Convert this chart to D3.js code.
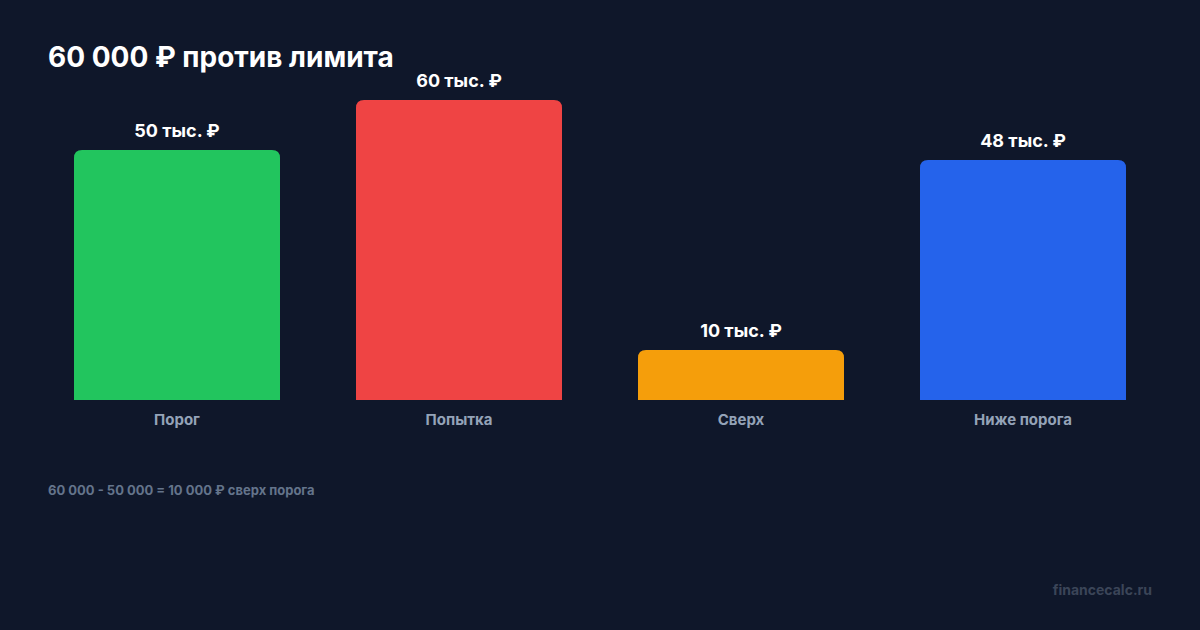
<!DOCTYPE html>
<html><head><meta charset="utf-8">
<script src="https://cdn.jsdelivr.net/npm/d3@7/dist/d3.min.js"></script>
<style>html,body{margin:0;padding:0;background:#0f172a;}svg{display:block;font-family:Inter,"Noto Sans",sans-serif;}</style>
</head><body>
<svg id="c" width="1200" height="630"></svg>
<script>
const categories = ["Порог", "Попытка", "Сверх", "Ниже порога"];
const values = [50, 60, 10, 48];
const valueLabels = ["50 тыс. ₽", "60 тыс. ₽", "10 тыс. ₽", "48 тыс. ₽"];
const colors = ["#22c55e", "#ef4444", "#f59e0b", "#2563eb"];
const title = "60 000 ₽ против лимита";
const footnote = "60 000 - 50 000 = 10 000 ₽ сверх порога";
const watermark = "financecalc.ru";

const svg = d3.select("#c");
svg.append("rect").attr("width",1200).attr("height",630).attr("fill","#0f172a");

const x = d3.scaleBand().domain(categories).range([48,1152])
  .paddingInner(76/282).paddingOuter(26/282);
const y = d3.scaleLinear().domain([0,60]).range([400,100]);

function topRounded(x0, y0, w, h, r){
  r = Math.min(r, h, w/2);
  return `M${x0},${y0+h}V${y0+r}Q${x0},${y0} ${x0+r},${y0}H${x0+w-r}Q${x0+w},${y0} ${x0+w},${y0+r}V${y0+h}Z`;
}

svg.append("text").attr("x",48).attr("y",67).attr("fill","#ffffff")
  .attr("font-size",28).attr("font-weight",700).text(title);

const g = svg.append("g");
categories.forEach((c,i)=>{
  const bx = x(c), bw = x.bandwidth(), top = y(values[i]);
  g.append("path").attr("d", topRounded(bx, top, bw, y(0)-top, 8)).attr("fill", colors[i]);
  g.append("text").attr("x", bx+bw/2).attr("y", top-13).attr("text-anchor","middle")
    .attr("fill","#ffffff").attr("font-size",18).attr("font-weight",700).text(valueLabels[i]);
  g.append("text").attr("x", bx+bw/2).attr("y", 425).attr("text-anchor","middle")
    .attr("fill","#94a3b8").attr("font-size",15).attr("font-weight",700).text(c);
});

svg.append("text").attr("x",48).attr("y",495).attr("fill","#64748b")
  .attr("font-size",13).attr("font-weight",700).text(footnote);
svg.append("text").attr("x",1152).attr("y",595).attr("text-anchor","end").attr("fill","#3b4558")
  .attr("font-size",14).attr("font-weight",700).text(watermark);
</script>
</body></html>
